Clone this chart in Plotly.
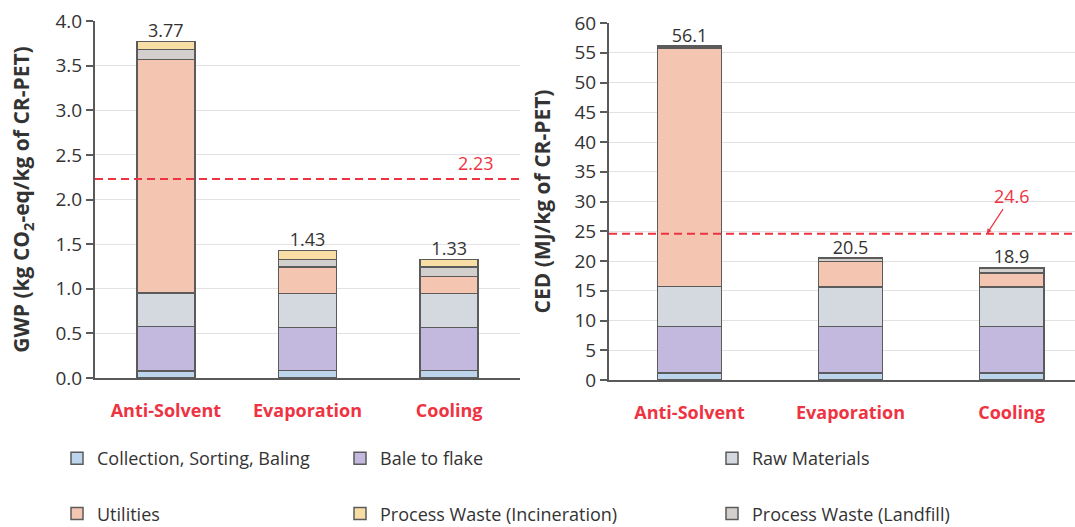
import plotly.graph_objects as go

# ---- data -------------------------------------------------------------
categories = ["Anti-Solvent", "Evaporation", "Cooling"]

series_names = [
    "Collection, Sorting, Baling",
    "Bale to flake",
    "Raw Materials",
    "Utilities",
    "Process Waste (Landfill)",
    "Process Waste (Incineration)",
]

# Global warming potential, kg CO2-eq / kg CR-PET (stack order bottom -> top)
gwp_collection = [0.08, 0.085, 0.085]
gwp_bale = [0.495, 0.48, 0.48]
gwp_raw = [0.375, 0.38, 0.38]
gwp_utilities = [2.62, 0.30, 0.19]
gwp_landfill = [0.11, 0.08, 0.11]
gwp_incineration = [0.09, 0.105, 0.085]

# Cumulative energy demand, MJ / kg CR-PET
ced_collection = [1.2, 1.2, 1.2]
ced_bale = [7.8, 7.8, 7.8]
ced_raw = [6.7, 6.6, 6.6]
ced_utilities = [40.0, 4.3, 2.4]
ced_landfill = [0.3, 0.5, 0.8]
ced_incineration = [0.1, 0.1, 0.1]

# Virgin PET benchmark values
gwp_reference = 2.23
ced_reference = 24.6

gwp_tick_values = [0, 0.5, 1.0, 1.5, 2.0, 2.5, 3.0, 3.5, 4.0]
ced_tick_values = list(range(0, 61, 5))

# ---- styling ----------------------------------------------------------
series_colors = ["#bcd5ec", "#c3b9de", "#d3d9df", "#f4c6b2", "#d3cfcd", "#f8dda4"]
# legend column for each series
legend_slots = ["legend", "legend2", "legend3", "legend", "legend3", "legend2"]
outline = "#5b5b5b"
red = "#ee3342"
text_color = "#333333"
FONT = "Open Sans"

gwp_series = [gwp_collection, gwp_bale, gwp_raw, gwp_utilities, gwp_landfill, gwp_incineration]
ced_series = [ced_collection, ced_bale, ced_raw, ced_utilities, ced_landfill, ced_incineration]

fig = go.Figure()

for i, name in enumerate(series_names):
    fig.add_trace(go.Bar(
        x=categories, y=gwp_series[i], name=name,
        marker=dict(color=series_colors[i], line=dict(color=outline, width=1.5)),
        width=0.41, xaxis="x", yaxis="y",
        legend=legend_slots[i], legendgroup=name, showlegend=True,
        hoverinfo="skip",
    ))
for i, name in enumerate(series_names):
    fig.add_trace(go.Bar(
        x=categories, y=ced_series[i], name=name,
        marker=dict(color=series_colors[i], line=dict(color=outline, width=1.5)),
        width=0.40, xaxis="x2", yaxis="y2",
        legend=legend_slots[i], legendgroup=name, showlegend=False,
        hoverinfo="skip",
    ))

# totals above each stack
gwp_totals = [sum(s[j] for s in gwp_series) for j in range(len(categories))]
ced_totals = [sum(s[j] for s in ced_series) for j in range(len(categories))]

fig.add_trace(go.Scatter(
    x=categories, y=gwp_totals, mode="text",
    text=[f"{v:.2f}" for v in gwp_totals], textposition="top center",
    textfont=dict(family=FONT, size=18, color=text_color),
    xaxis="x", yaxis="y", showlegend=False, cliponaxis=False, hoverinfo="skip",
))
fig.add_trace(go.Scatter(
    x=categories, y=ced_totals, mode="text",
    text=[f"{v:.1f}" for v in ced_totals], textposition="top center",
    textfont=dict(family=FONT, size=18, color=text_color),
    xaxis="x2", yaxis="y2", showlegend=False, cliponaxis=False, hoverinfo="skip",
))

# benchmark lines
fig.add_shape(type="line", xref="x domain", yref="y", x0=0, x1=1,
              y0=gwp_reference, y1=gwp_reference,
              line=dict(color=red, width=2, dash="8px,5px"))
fig.add_shape(type="line", xref="x2 domain", yref="y2", x0=0, x1=1,
              y0=ced_reference, y1=ced_reference,
              line=dict(color=red, width=2, dash="8px,5px"))

fig.add_annotation(x=2.19, y=gwp_reference, xref="x", yref="y",
                   text=f"{gwp_reference:.2f}", showarrow=False, yanchor="bottom", yshift=2,
                   font=dict(family=FONT, size=18, color=red))
fig.add_annotation(x=1.847, y=ced_reference, xref="x2", yref="y2",
                   text=f"{ced_reference:.1f}", showarrow=True, ax=25, ay=-38,
                   arrowhead=2, arrowsize=0.8, arrowwidth=1.2, arrowcolor=red,
                   font=dict(family=FONT, size=18, color=red))

axis_common = dict(showline=True, linecolor="#5a5a5a", linewidth=2, automargin=False)
xcat = dict(type="category", ticks="", tickfont=dict(family=FONT, size=18, color=red, weight="bold"),
            ticklabelstandoff=15, showgrid=False, **axis_common)
ycommon = dict(showgrid=True, gridcolor="#e2e2e2", gridwidth=1, zeroline=False,
               ticks="outside", ticklen=7, tickwidth=2, tickcolor="#5a5a5a",
               tickfont=dict(family=FONT, size=19, color=text_color), **axis_common)

fig.update_layout(
    template="none",
    width=1075, height=527,
    margin=dict(l=0, r=0, t=0, b=0, autoexpand=False),
    barmode="stack",
    plot_bgcolor="white", paper_bgcolor="white",
    font=dict(family=FONT, size=18, color=text_color),
    xaxis=dict(domain=[95 / 1075, 520 / 1075], range=[-0.5, 2.5], anchor="y", **xcat),
    yaxis=dict(domain=[1 - 378 / 527, 1 - 21 / 527], range=[0, 4.0], tickvals=gwp_tick_values,
               tickformat=".1f", anchor="x",
               title=dict(text="GWP (kg CO<sub>2</sub>-eq/kg of CR-PET)", standoff=20,
                          font=dict(family=FONT, size=21, color=text_color, weight="bold")),
               **ycommon),
    xaxis2=dict(domain=[609 / 1075, 1.0], range=[-0.5, 2.394], anchor="y2", **xcat),
    yaxis2=dict(domain=[1 - 380 / 527, 1 - 23 / 527], range=[0, 60], tickvals=ced_tick_values,
                anchor="x2",
                title=dict(text="CED (MJ/kg of CR-PET)", standoff=18,
                           font=dict(family=FONT, size=21, color=text_color, weight="bold")),
                **ycommon),
    showlegend=True,
)

legend_common = dict(orientation="v", traceorder="grouped", tracegroupgap=29,
                     font=dict(family=FONT, size=18, color=text_color),
                     bgcolor="rgba(0,0,0,0)", borderwidth=0,
                     yanchor="top", xanchor="left",
                     itemclick=False, itemdoubleclick=False)
fig.update_layout(
    legend=dict(x=57 / 1075, y=1 - 440 / 527, **legend_common),
    legend2=dict(x=340 / 1075, y=1 - 440 / 527, **legend_common),
    legend3=dict(x=712 / 1075, y=1 - 440 / 527, **legend_common),
)

fig.write_html("out.html")
